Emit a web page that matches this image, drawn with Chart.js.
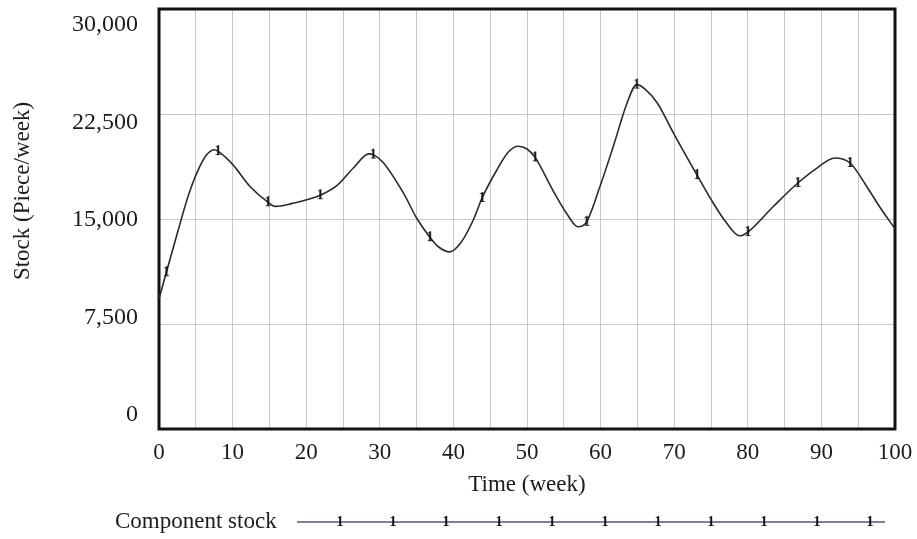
<!DOCTYPE html>
<html>
<head>
<meta charset="utf-8">
<script src="https://cdn.jsdelivr.net/npm/chart.js@4/dist/chart.umd.min.js"></script>
<style>
  html, body { margin: 0; padding: 0; background: #fff; }
  canvas { display: block; }
</style>
</head>
<body>
<canvas id="stockChart" width="917" height="539"></canvas>
<script>
// Simulated component stock over 100 weeks
const weeks = [0, 1, 2.5, 4, 5.5, 6.5, 7.5, 8, 10, 12.4, 14.8, 15.8, 18, 21.9, 24.2, 26.5, 28.5, 29.1,
  30.4, 33.2, 35, 36.8, 38, 39.5, 41, 42.7, 43.9, 45.9, 47.5, 48.8, 50, 51.1, 53.5, 55.5, 56.9, 58.1,
  59.9, 61.7, 63.6, 64.9, 66, 67.7, 69.9, 73.1, 75.3, 77, 78.9, 80, 83.4, 86.8, 89.4, 91.8, 93.9,
  96.2, 98, 100];
const stock = [9300, 11200, 14000, 16700, 18700, 19600, 19950, 19850, 18900, 17300, 16200, 15900, 16100, 16700, 17400, 18700, 19650, 19600,
  19070, 16860, 15070, 13700, 13000, 12650, 13300, 14930, 16500, 18500, 19800, 20200, 20000, 19400, 17070, 15300, 14450, 14800,
  17300, 20140, 23290, 24600, 24300, 23290, 21140, 18140, 16140, 14800, 13800, 14070, 15860, 17570, 18640, 19360, 19000,
  17290, 15800, 14300];
// weeks that carry the "1" series marker
const markerWeeks = [1, 8, 14.8, 21.9, 29.1, 36.8, 43.9, 51.1, 58.1, 64.9, 73.1, 80, 86.8, 93.9];

const yTicks = [0, 7500, 15000, 22500, 30000];
const xLabelStep = 10;

const serif = '"Liberation Serif", "DejaVu Serif", serif';
const textColor = '#1c1c1c';
const gridColor = '#c9c9c9';

// "1" glyph used as the point style
function makeMarker() {
  const c = document.createElement('canvas');
  c.width = 10;
  c.height = 14;
  const g = c.getContext('2d');
  g.fillStyle = '#111';
  g.font = 'bold 14px ' + serif;
  g.textAlign = 'center';
  g.textBaseline = 'middle';
  g.fillText('1', 5, 7);
  return c;
}
const marker = makeMarker();

// frame, rotated y title and the series key under the axis
const decorations = {
  id: 'decorations',
  beforeDatasetsDraw(chart) {
    const { ctx, chartArea: a } = chart;
    ctx.save();
    ctx.strokeStyle = '#111';
    ctx.lineWidth = 3;
    ctx.strokeRect(a.left, a.top, a.right - a.left, a.bottom - a.top);
    ctx.restore();
  },
  afterDraw(chart) {
    const { ctx } = chart;
    ctx.save();
    ctx.fillStyle = textColor;
    ctx.font = '23px ' + serif;

    ctx.translate(23, 191);
    ctx.rotate(-Math.PI / 2);
    ctx.textAlign = 'center';
    ctx.textBaseline = 'middle';
    ctx.fillText('Stock (Piece/week)', 0, 0);
    ctx.setTransform(1, 0, 0, 1, 0, 0);

    const ly = 522;
    ctx.font = '23px ' + serif;
    ctx.textAlign = 'left';
    ctx.fillText('Component stock', 115, ly);

    ctx.strokeStyle = '#55557f';
    ctx.lineWidth = 1.5;
    ctx.beginPath();
    ctx.moveTo(297, ly);
    ctx.lineTo(885, ly);
    ctx.stroke();
    for (let x = 340; x <= 872; x += 53) {
      ctx.drawImage(marker, x - 5, ly - 7);
    }
    ctx.restore();
  }
};

const noPad = s => { s.paddingTop = 0; s.paddingBottom = 0; s.paddingLeft = 0; s.paddingRight = 0; };

new Chart(document.getElementById('stockChart'), {
  type: 'line',
  data: {
    datasets: [{
      label: 'Component stock',
      data: weeks.map((w, i) => ({ x: w, y: stock[i] })),
      borderColor: '#2a2a2a',
      borderWidth: 1.6,
      cubicInterpolationMode: 'monotone',
      fill: false,
      pointStyle: marker,
      pointRadius: ctx => markerWeeks.includes(weeks[ctx.dataIndex]) ? 5 : 0
    }]
  },
  options: {
    responsive: false,
    animation: false,
    layout: { padding: { top: 9, right: 22, bottom: 40, left: 0 } },
    plugins: {
      legend: { display: false },
      tooltip: { enabled: false }
    },
    scales: {
      x: {
        type: 'linear',
        min: 0,
        max: 100,
        grid: { color: gridColor, drawTicks: false },
        border: { display: false },
        ticks: {
          stepSize: 5,
          autoSkip: false,
          maxRotation: 0,
          padding: 10,
          color: textColor,
          font: { family: serif, size: 23 },
          callback: v => v % xLabelStep === 0 ? v : ''
        },
        title: {
          display: true,
          text: 'Time (week)',
          color: textColor,
          font: { family: serif, size: 23 },
          padding: 0
        },
        afterFit: s => { s.height = 70; noPad(s); }
      },
      y: {
        min: 0,
        max: 30000,
        weight: 0,
        grid: { color: gridColor, drawTicks: false },
        border: { display: false },
        ticks: { display: false, stepSize: 7500 },
        afterFit: s => { s.width = 0; noPad(s); }
      },
      // label axis: tick labels sit on a slightly compressed spacing
      y2: {
        type: 'linear',
        position: 'left',
        weight: 1,
        bounds: 'data',
        min: -1077,
        max: 31231,
        grid: { display: false, drawTicks: false },
        border: { display: false },
        afterBuildTicks: s => { s.ticks = yTicks.map(v => ({ value: v })); },
        ticks: {
          padding: 21,
          color: textColor,
          font: { family: serif, size: 24 },
          callback: v => v.toLocaleString('en-US')
        },
        afterFit: s => { s.width = 159; noPad(s); }
      }
    }
  },
  plugins: [decorations]
});
</script>
</body>
</html>
